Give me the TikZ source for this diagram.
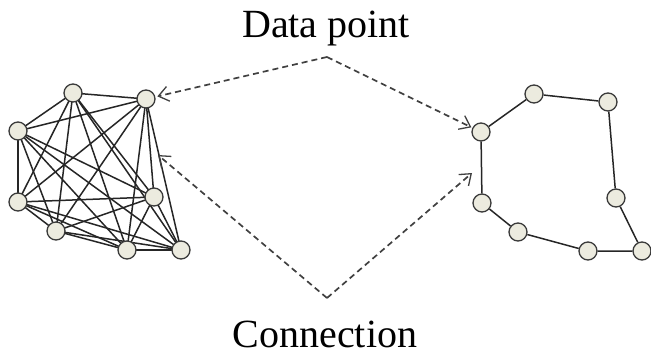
\documentclass[tikz,border=0pt]{standalone}
\usepackage{fontspec}
\setmainfont{Liberation Serif}
\usepackage{tikz}
\usetikzlibrary{arrows.meta}
\definecolor{pointfill}{HTML}{ECEBDF}
\definecolor{pointline}{HTML}{3A3A3A}
\tikzset{
  point/.style={circle,draw=pointline,fill=pointfill,line width=1.3pt,minimum size=18pt,inner sep=0pt},
  link/.style={line width=1.5pt,draw=black!85},
  pointer/.style={line width=1.7pt,draw=black!75,dash pattern=on 6pt off 4pt,
    -{Straight Barb[length=10pt,width=15pt,line width=1.3pt]}},
  label/.style={font=\fontsize{40}{44}\selectfont,inner sep=0pt,anchor=base}
}
\begin{document}
\begin{tikzpicture}[x=1pt,y=-1pt]
\useasboundingbox (0,0) rectangle (651,356);
% fully connected group
\foreach \n/\p in {a/{73,93},b/{146,99},c/{18,131},d/{18,202},e/{154,197},f/{56,231},g/{127,250},h/{181,250}}
  \coordinate (\n) at (\p);
\foreach \s/\others in {a/{b,c,d,e,f,g,h},b/{c,d,e,f,g,h},c/{d,e,f,g,h},d/{e,f,g,h},e/{f,g,h},f/{g,h},g/{h}}
  \foreach \t in \others
    \draw[link] (\s) -- (\t);
\foreach \n in {a,b,c,d,e,f,g,h}
  \node[point] (\n) at (\n) {};
% ring group
\node[point] (r1) at (481,132) {};
\node[point] (r2) at (534,94) {};
\node[point] (r3) at (608,102) {};
\node[point] (r4) at (616,198) {};
\node[point] (r5) at (642,251) {};
\node[point] (r6) at (588,251) {};
\node[point] (r7) at (518,232) {};
\node[point] (r8) at (482,203) {};
\draw[link] (r1) -- (r2) -- (r3) -- (r4) -- (r5) -- (r6) -- (r7) -- (r8) -- (r1);
% labels and pointers
\node[label] (dp) at (326,37) {Data point};
\node[label] (cn) at (325,347) {Connection};
\coordinate (top) at (327,57);
\coordinate (bot) at (327,298);
\coordinate (lend) at (158,155);
\coordinate (rend) at (472,173);
\draw[pointer,shorten >=2pt] (top) -- (b);
\draw[pointer,shorten >=1pt] (top) -- (r1);
\draw[pointer] (bot) -- (lend);
\draw[pointer] (bot) -- (rend);
\end{tikzpicture}
\end{document}
